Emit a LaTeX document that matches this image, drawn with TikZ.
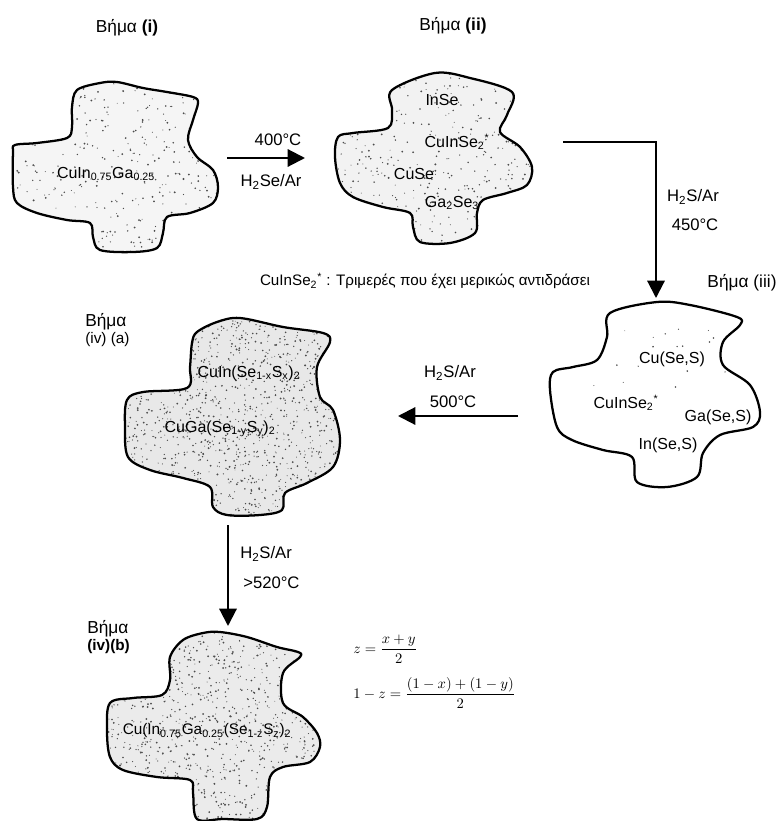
\documentclass[tikz,border=0pt]{standalone}
\usepackage{amsmath}
\usepackage{fontspec}
\setmainfont{Liberation Sans}
\usetikzlibrary{arrows.meta}
\newcommand{\stipple}[6]{% #1 path, #2 x0, #3 y0, #4 w, #5 h, #6 count
  \begin{scope}
    \clip[use path=#1];
    \foreach \i in {1,...,#6}{%
      \pgfmathsetmacro\rx{#2+rnd*#4}%
      \pgfmathsetmacro\ry{#3+rnd*#5}%
      \pgfmathsetmacro\rr{0.45+0.6*rnd}%
      \fill[black!70] (\rx,\ry) circle[radius=\rr];
    }
  \end{scope}}
\begin{document}
\begin{tikzpicture}[x=0.75pt,y=-0.75pt,
  blob/.style={draw=black, line width=1.7pt, line join=round},
  lbl/.style={font=\fontsize{12}{14}\selectfont, inner sep=0pt},
  steplbl/.style={font=\fontsize{13}{15}\selectfont, inner sep=0pt},
  substeplbl/.style={font=\fontsize{13}{14}\selectfont, inner sep=0pt, align=left, anchor=north west},
  cond/.style={font=\fontsize{12.5}{14}\selectfont, inner sep=0pt},
  conn/.style={line width=1.6pt, -{Triangle[length=13pt,width=13pt]}},
  eqlbl/.style={font=\fontsize{10.5}{12}\selectfont, inner sep=0pt, anchor=west}
]
\useasboundingbox (0,0) rectangle (779,821);
\pgfmathsetseed{4217}

% ---------- blob paths ----------
\path[save path=\pathA] plot[smooth cycle, tension=0.55] coordinates {
 (72,107) (77,90) (100,83) (117,82) (143,88) (167,92) (193,97) (198,103) (193,120) (188,140)
 (197,157) (213,170) (218,187) (213,203) (190,213) (167,217) (163,233) (157,248) (133,252)
 (100,250) (93,237) (90,223) (67,220) (37,213) (17,203) (13,187) (13,153) (15,145) (37,143)
 (67,138) (72,127)};
\path[save path=\pathB] plot[smooth cycle, tension=0.55] coordinates {
 (392,90) (435,73) (470,78) (512,92) (507,115) (500,132) (520,147) (532,167) (527,185)
 (507,193) (483,200) (477,213) (475,233) (450,243) (420,242) (413,227) (410,213) (383,207)
 (353,197) (340,183) (335,157) (338,137) (353,133) (388,128) (392,110)};
\path[save path=\pathC] plot[smooth cycle, tension=0.55] coordinates {
 (610,313) (657,302) (690,305) (737,317) (740,325) (723,342) (723,365) (750,385) (760,412)
 (753,427) (720,435) (703,453) (697,477) (667,487) (637,482) (632,457) (603,450) (572,440)
 (557,427) (550,390) (553,372) (573,367) (597,360) (607,337)};
\path[save path=\pathD] plot[smooth cycle, tension=0.55] coordinates {
 (197,332) (217,322) (240,318) (283,327) (323,333) (330,342) (317,367) (320,397) (333,410)
 (340,440) (333,467) (307,483) (285,493) (282,510) (260,515) (227,515) (213,507) (210,487)
 (183,478) (150,470) (128,457) (125,427) (127,400) (143,392) (187,388) (190,367) (192,343)};
\path[save path=\pathE] plot[smooth cycle, tension=0.55] coordinates {
 (203,633) (220,632) (247,637) (277,647) (298,652) (300,657) (283,673) (283,703) (303,717)
 (317,733) (320,747) (310,762) (283,767) (270,777) (267,807) (257,819) (223,819) (197,819)
 (193,793) (190,780) (157,777) (123,770) (110,757) (107,730) (110,703) (133,698) (162,695)
 (170,680) (170,657) (183,640)};

% ---------- fills and stipple ----------
\fill[black!4, use path=\pathA];
\fill[black!5, use path=\pathB];
\fill[white, use path=\pathC];
\fill[black!9, use path=\pathD];
\fill[black!8, use path=\pathE];
\stipple{\pathA}{10}{78}{212}{178}{380}
\stipple{\pathB}{332}{70}{204}{177}{420}
\stipple{\pathC}{590}{320}{150}{90}{22}
\stipple{\pathD}{122}{315}{222}{204}{1300}
\stipple{\pathE}{104}{628}{220}{194}{1100}

% ---------- outlines ----------
\draw[blob, use path=\pathA];
\draw[blob, use path=\pathB];
\draw[blob, use path=\pathC];
\draw[blob, use path=\pathD];
\draw[blob, use path=\pathE];

% ---------- step titles ----------
\node[steplbl] (s1) at (127,28) {Βήμα \textbf{(i)}};
\node[steplbl] (s2) at (453,26) {Βήμα \textbf{(ii)}};
\node[steplbl] (s3) at (742,283) {Βήμα (iii)};
\node[substeplbl] (s4a) at (85,313) {Βήμα\\[-1pt]{\fontsize{11.5}{12}\selectfont (iv) (a)}};
\node[substeplbl] (s4b) at (87,620) {Βήμα\\[-1pt]{\fontsize{11.5}{12}\selectfont\bfseries (iv)(b)}};

% ---------- compositions ----------
\node[lbl] (c1) at (106,174) {CuIn\textsubscript{0.75}Ga\textsubscript{0.25}};
\node[lbl] (c2a) at (442,100) {InSe};
\node[lbl] (c2b) at (457,142) {CuInSe\textsubscript{2}\textsuperscript{*}};
\node[lbl] (c2c) at (414,174) {CuSe};
\node[lbl] (c2d) at (452,203) {Ga\textsubscript{2}Se\textsubscript{3}};
\node[lbl] (c3a) at (672,359) {Cu(Se,S)};
\node[lbl] (c3b) at (626,403) {CuInSe\textsubscript{2}\textsuperscript{*}};
\node[lbl] (c3c) at (718,417) {Ga(Se,S)};
\node[lbl] (c3d) at (668,445) {In(Se,S)};
\node[lbl] (c4a) at (249,373) {CuIn(Se\textsubscript{1-x}S\textsubscript{x})\textsubscript{2}};
\node[lbl] (c4b) at (220,429) {CuGa(Se\textsubscript{1-y}S\textsubscript{y})\textsubscript{2}};
\node[lbl, font=\fontsize{11.5}{13}\selectfont] (c5) at (207,731) {Cu(In\textsubscript{0.75}Ga\textsubscript{0.25}(Se\textsubscript{1-z}S\textsubscript{z})\textsubscript{2}};

% ---------- caption ----------
\node[inner sep=0pt, font=\fontsize{11.4}{12}\selectfont] (cap) at (425,281)
  {CuInSe\textsubscript{2}\textsuperscript{*} : Τριμερές που έχει μερικώς αντιδράσει};

% ---------- connectors ----------
\coordinate (a1s) at (227,158);
\coordinate (a1e) at (305,158);
\draw[conn] (a1s) -- (a1e);
\node[cond] (t1a) at (278,140) {400°C};
\node[cond] (t1b) at (271,182) {H\textsubscript{2}Se/Ar};

\coordinate (a2s) at (563,142);
\coordinate (a2e) at (656,298);
\draw[conn] (a2s) -| (a2e);
\node[cond] (t2a) at (693,197) {H\textsubscript{2}S/Ar};
\node[cond] (t2b) at (695,225) {450°C};

\coordinate (a3s) at (518,416);
\coordinate (a3e) at (398,416);
\draw[conn] (a3s) -- (a3e);
\node[cond] (t3a) at (450,373) {H\textsubscript{2}S/Ar};
\node[cond] (t3b) at (453,402) {500°C};

\coordinate (a4s) at (228,525);
\coordinate (a4e) at (228,626);
\draw[conn] (a4s) -- (a4e);
\node[cond, anchor=west] (t4a) at (240,554) {H\textsubscript{2}S/Ar};
\node[cond, anchor=west] (t4b) at (243,583) {>520°C};

% ---------- equations ----------
\node[eqlbl] (eq1) at (353,649) {$z=\dfrac{x+y}{2}$};
\node[eqlbl] (eq2) at (353,693) {$1-z=\dfrac{(1-x)+(1-y)}{2}$};
\end{tikzpicture}
\end{document}
